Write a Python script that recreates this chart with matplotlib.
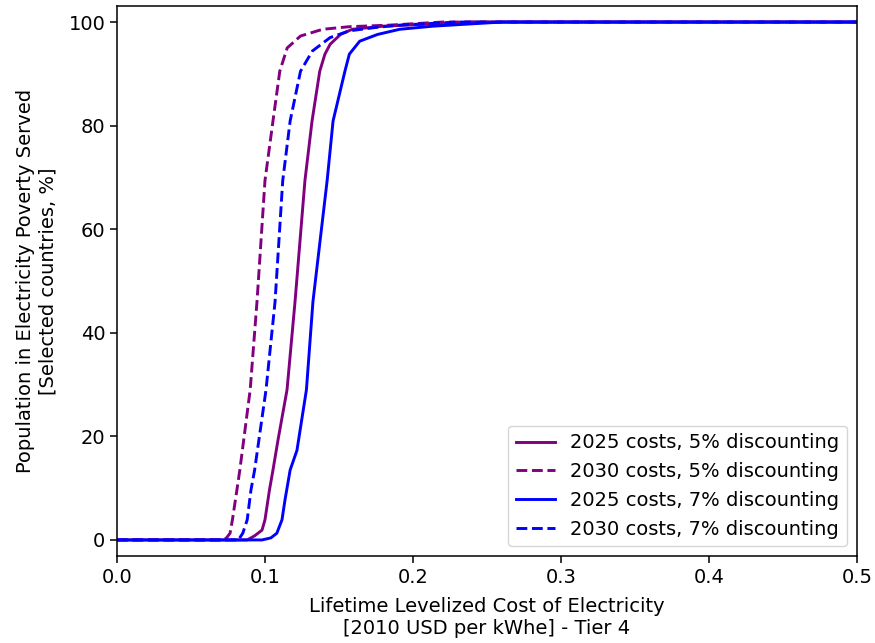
import numpy as np
import matplotlib.pyplot as plt

# cumulative share of population served (%) vs lifetime LCOE (USD/kWhe)
x_2025_5 = [0, 0.088, 0.093, 0.098, 0.100, 0.103, 0.1054, 0.1088, 0.1149, 0.1203, 0.127, 0.1318,
            0.137, 0.1405, 0.144, 0.151, 0.159, 0.18, 0.24, 0.5]
y_2025_5 = [0, 0, 0.8, 1.9, 3.9, 9.6, 13.5, 19.3, 29, 46, 69.4, 80.9,
            90.5, 93.8, 95.7, 97.6, 98.6, 99.2, 100, 100]

x_2030_5 = [0, 0.072, 0.074, 0.0764, 0.078, 0.081, 0.083, 0.090, 0.0946, 0.100, 0.1054,
            0.110, 0.115, 0.124, 0.139, 0.157, 0.184, 0.22, 0.5]
y_2030_5 = [0, 0, 0.4, 1.3, 3.9, 9.6, 13.5, 29, 46, 69.4, 80.9,
            90.5, 95, 97.3, 98.6, 99.1, 99.4, 100, 100]

x_2025_7 = [0, 0.098, 0.104, 0.108, 0.1115, 0.1135, 0.117, 0.1216, 0.128, 0.1324, 0.142, 0.146,
            0.154, 0.157, 0.164, 0.176, 0.191, 0.2135, 0.26, 0.5]
y_2025_7 = [0, 0, 0.4, 1.3, 3.9, 7.7, 13.5, 17.3, 29, 46, 69.4, 80.9,
            90.5, 93.8, 96.3, 97.6, 98.6, 99.2, 100, 100]

x_2030_7 = [0, 0.082, 0.085, 0.088, 0.0905, 0.093, 0.1007, 0.1068, 0.112, 0.117, 0.124,
            0.132, 0.144, 0.157, 0.176, 0.191, 0.23, 0.5]
y_2030_7 = [0, 0, 1.3, 3.9, 9.6, 13.5, 29, 46, 69.4, 80.9, 90.5,
            94.4, 97, 98.3, 99.0, 99.4, 100, 100]

fs = 14
lw = 2.1

fig = plt.figure(figsize=(8.75, 6.43), dpi=100)
ax = fig.add_axes([0.1337, 0.1353, 0.8457, 0.8554])

ax.plot(x_2025_5, y_2025_5, color='purple', lw=lw, label='2025 costs, 5% discounting')
ax.plot(x_2030_5, y_2030_5, color='purple', lw=lw, linestyle='--', label='2030 costs, 5% discounting')
ax.plot(x_2025_7, y_2025_7, color='blue', lw=lw, label='2025 costs, 7% discounting')
ax.plot(x_2030_7, y_2030_7, color='blue', lw=lw, linestyle='--', label='2030 costs, 7% discounting')

ax.set_xlim(0, 0.5)
ax.set_ylim(-3.1, 103.1)
ax.legend(loc='lower right', fontsize=fs)
ax.tick_params(labelsize=fs, width=1.1, length=4.8)
for s in ax.spines.values():
    s.set_linewidth(1.1)
ax.set_xlabel('Lifetime Levelized Cost of Electricity\n[2010 USD per kWhe] - Tier 4',
              fontsize=fs, labelpad=7.5)
ax.set_ylabel('Population in Electricity Poverty Served\n[Selected countries, %]',
              fontsize=fs, labelpad=8)

fig.savefig('out.png')
